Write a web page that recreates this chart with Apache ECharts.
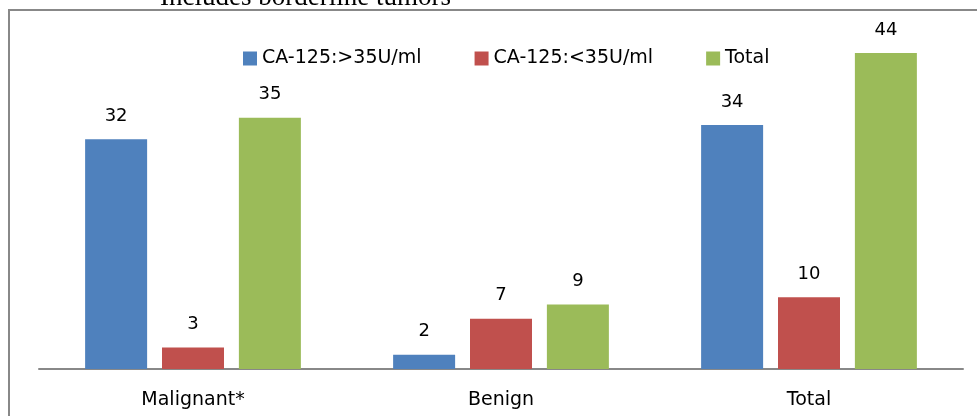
<!DOCTYPE html>
<html><head><meta charset="utf-8">
<script src="https://cdn.jsdelivr.net/npm/echarts@6/dist/echarts.min.js"></script>
<style>html,body{margin:0;padding:0;background:#fff}#c{width:977px;height:416px}</style>
</head><body><div id="c"></div>
<script>
const categories = ['Malignant*', 'Benign', 'Total'];
const seriesNames = ['CA-125:>35U/ml', 'CA-125:<35U/ml', 'Total'];
const above35 = [32, 2, 34];
const below35 = [3, 7, 10];
const totals = [35, 9, 44];
const colors = ['#4F81BD', '#C0504D', '#9BBB59'];
const font = '"DejaVu Sans", "Open Sans", sans-serif';

const chart = echarts.init(document.getElementById('c'));
const mk = (name, data, i) => ({
  name, type: 'bar', data, barWidth: 62, barGap: '24%',
  itemStyle: { color: colors[i] },
  label: { show: true, position: 'top', distance: 14, color: '#000', fontSize: 18, fontFamily: font }
});
chart.setOption({
  animation: false,
  graphic: [
    { type: 'rect', shape: { x: 9, y: 10, width: 1100, height: 600 }, style: { fill: 'none', stroke: '#888', lineWidth: 2 }, silent: true },
    { type: 'text', x: 160, y: -16, style: { text: 'Includes borderline tumors', font: '27px "Liberation Serif", serif', fill: '#000' } }
  ],
  legend: {
    left: 238, top: 44, itemWidth: 14, itemHeight: 14, itemGap: 53,
    icon: 'rect',
    textStyle: { fontSize: 19, fontFamily: font, color: '#000' },
    data: seriesNames
  },
  grid: { left: 39, right: 14, top: 10, bottom: 47 },
  xAxis: {
    type: 'category', data: categories,
    axisLine: { lineStyle: { color: '#888', width: 2 } },
    axisTick: { show: false },
    axisLabel: { color: '#000', fontSize: 19, fontFamily: font, margin: 22 }
  },
  yAxis: { type: 'value', min: 0, max: 50, show: false, splitLine: { show: false } },
  series: [mk(seriesNames[0], above35, 0), mk(seriesNames[1], below35, 1), mk(seriesNames[2], totals, 2)]
});
</script></body></html>
